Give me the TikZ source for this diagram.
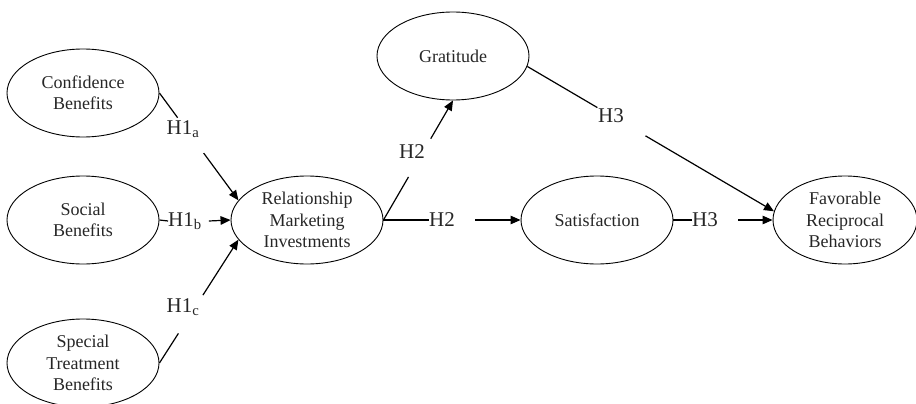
\documentclass[tikz,border=0pt]{standalone}
\usepackage{fontspec}
\setmainfont{Liberation Serif}
\usetikzlibrary{shapes.geometric,arrows.meta,calc}
\begin{document}
\begin{tikzpicture}[x=1pt,y=-1pt,
  latent/.style={draw, ellipse, line width=0.9pt, minimum width=152pt, minimum height=88pt,
    inner sep=0pt, align=center, text=black!85, font=\fontsize{18}{21.5}\selectfont},
  hyp/.style={inner sep=0pt, text=black!85, font=\fontsize{21}{24}\selectfont},
  link/.style={line width=1.2pt},
  arr/.style={line width=1.2pt, -{Triangle[length=10pt,width=8.5pt]}}]
\useasboundingbox (0,0) rectangle (916,404);

% constructs
\node[latent] (cb)  at (83,93)   {Confidence\\Benefits};
\node[latent] (sb)  at (83,220)  {Social\\Benefits};
\node[latent] (st)  at (83,363)  {Special\\Treatment\\Benefits};
\node[latent] (rmi) at (307,220) {Relationship\\Marketing\\Investments};
\node[latent] (gr)  at (453,56)  {Gratitude};
\node[latent] (sat) at (597,220) {Satisfaction};
\node[latent, minimum width=144pt] (fav) at (845,220) {Favorable\\Reciprocal\\Behaviors};

% hypothesis labels
\node[hyp] (h1a) at (183,129) {H1\textsubscript{a}};
\node[hyp] (h1b) at (185,221) {H1\textsubscript{b}};
\node[hyp] (h1c) at (183,307) {H1\textsubscript{c}};
\node[hyp] (h2a) at (412,152) {H2};
\node[hyp] (h2b) at (442,220) {H2};
\node[hyp] (h3a) at (611,116) {H3};
\node[hyp] (h3b) at (705,220) {H3};

% H1a
\draw[link] (cb.east) -- ($(cb.east)!0.23!(rmi.164)$);
\draw[arr]  ($(cb.east)!0.56!(rmi.164)$) -- (rmi.164);
% H1b
\draw[link] (sb.east) -- (h1b.west);
\draw[arr]  ($(h1b.east)+(7,0)$) -- (rmi.west);
% H1c
\draw[link] (st.east) -- ($(st.east)!0.24!(rmi.196)$);
\draw[arr]  ($(st.east)!0.55!(rmi.196)$) -- (rmi.196);
% H2 to gratitude
\draw[link] (rmi.east) -- ($(rmi.east)!0.36!(gr.south)$);
\draw[arr]  ($(rmi.east)!0.68!(gr.south)$) -- (gr.south);
% H2 to satisfaction
\draw[link] (rmi.east) -- (h2b.west);
\draw[arr]  ($(h2b.east)+(20,0)$) -- (sat.west);
% H3 from gratitude
\draw[link] (gr.-8) -- ($(gr.-8)!0.284!(fav.173)$);
\draw[arr]  ($(gr.-8)!0.479!(fav.173)$) -- (fav.173);
% H3 from satisfaction
\draw[link] (sat.east) -- (h3b.west);
\draw[arr]  ($(h3b.east)+(20,0)$) -- (fav.west);
\end{tikzpicture}
\end{document}
